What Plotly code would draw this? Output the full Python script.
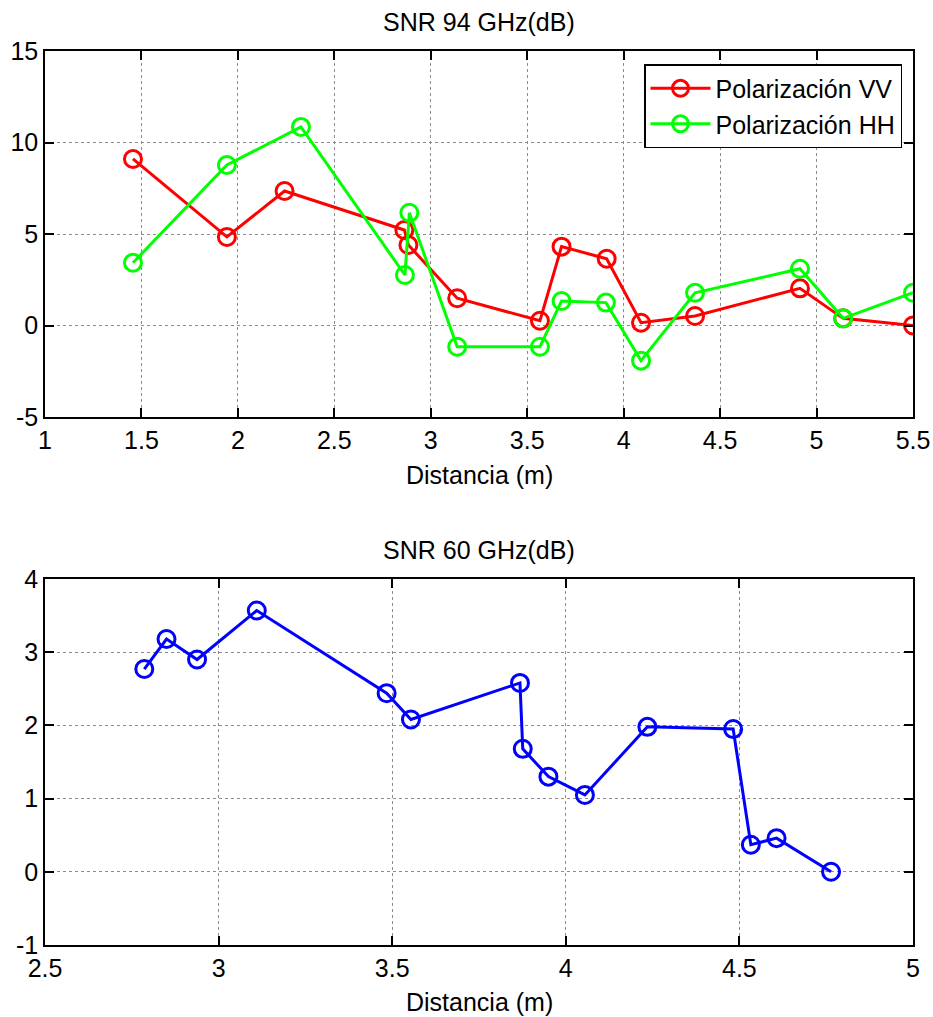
import plotly.graph_objects as go

# SNR at 94 GHz, two polarizations
dist_vv = [1.456, 1.943, 2.242, 2.863, 2.884, 3.137, 3.566, 3.678, 3.912, 4.090, 4.370, 4.914, 5.138, 5.5]
snr_vv = [9.10, 4.84, 7.35, 5.22, 4.40, 1.49, 0.26, 4.31, 3.65, 0.15, 0.52, 2.03, 0.39, 0.0]

dist_hh = [1.456, 1.943, 2.327, 2.866, 2.889, 3.137, 3.566, 3.678, 3.908, 4.090, 4.370, 4.914, 5.138, 5.5]
snr_hh = [3.43, 8.77, 10.85, 2.76, 6.16, -1.16, -1.16, 1.34, 1.25, -1.92, 1.79, 3.10, 0.39, 1.79]

# SNR at 60 GHz
dist_60 = [2.786, 2.850, 2.938, 3.110, 3.484, 3.554, 3.868, 3.876, 3.950, 4.055, 4.235, 4.482, 4.533, 4.607, 4.764]
snr_60 = [2.77, 3.18, 2.90, 3.57, 2.44, 2.08, 2.58, 1.68, 1.30, 1.05, 1.98, 1.95, 0.37, 0.46, 0.0]

# Tick labels
x1_ticks = [1, 1.5, 2, 2.5, 3, 3.5, 4, 4.5, 5, 5.5]
x1_labels = ["1", "1.5", "2", "2.5", "3", "3.5", "4", "4.5", "5", "5.5"]
y1_ticks = [-5, 0, 5, 10, 15]
y1_labels = ["-5", "0", "5", "10", "15"]
x2_ticks = [2.5, 3, 3.5, 4, 4.5, 5]
x2_labels = ["2.5", "3", "3.5", "4", "4.5", "5"]
y2_ticks = [-1, 0, 1, 2, 3, 4]
y2_labels = ["-1", "0", "1", "2", "3", "4"]

FONT = "Liberation Sans, Arial, sans-serif"
W, H = 933, 1017
ML, MR = 45, 20

def py(px):
    return (H - px) / H

def marker(c):
    return dict(symbol="circle-open", size=17, color=c, line=dict(width=3, color=c))

fig = go.Figure()
fig.add_trace(go.Scatter(x=dist_vv, y=snr_vv, mode="lines+markers", name="Polarización VV",
                         line=dict(color="#ff0000", width=3), marker=marker("#ff0000"),
                         xaxis="x", yaxis="y"))
fig.add_trace(go.Scatter(x=dist_hh, y=snr_hh, mode="lines+markers", name="Polarización HH",
                         line=dict(color="#00ff00", width=3), marker=marker("#00ff00"),
                         xaxis="x", yaxis="y"))
fig.add_trace(go.Scatter(x=dist_60, y=snr_60, mode="lines+markers", name="SNR 60 GHz",
                         line=dict(color="#0000ff", width=3), marker=marker("#0000ff"),
                         xaxis="x2", yaxis="y2", showlegend=False))

axis_common = dict(
    showline=True, linecolor="black", linewidth=1.5, mirror="ticks",
    ticks="inside", ticklen=9, tickwidth=1.5, tickcolor="black",
    showgrid=True, gridcolor="#8c8c8c", gridwidth=1, griddash="dot",
    zeroline=False, automargin=False,
    tickfont=dict(family=FONT, size=25, color="black"),
)

fig.update_layout(
    template="none",
    width=W, height=H,
    margin=dict(l=ML, r=MR, t=0, b=0, autoexpand=False),
    paper_bgcolor="white", plot_bgcolor="white",
    font=dict(family=FONT, size=25, color="black"),
    xaxis=dict(axis_common, range=[1, 5.5], tickvals=x1_ticks, ticktext=x1_labels,
               domain=[0, 1], anchor="y"),
    yaxis=dict(axis_common, range=[-5, 15], tickvals=y1_ticks, ticktext=y1_labels,
               domain=[py(417), py(51)], anchor="x"),
    xaxis2=dict(axis_common, range=[2.5, 5], tickvals=x2_ticks, ticktext=x2_labels,
                domain=[0, 1], anchor="y2"),
    yaxis2=dict(axis_common, range=[-1, 4], tickvals=y2_ticks, ticktext=y2_labels,
                domain=[py(945), py(579)], anchor="x2"),
    legend=dict(x=1 - (913 - 902) / (W - ML - MR), y=py(64), xanchor="right", yanchor="top",
                bgcolor="white", bordercolor="black", borderwidth=1.5,
                font=dict(family=FONT, size=25, color="black"),
                itemwidth=60, tracegroupgap=0),
    showlegend=True,
)

annotations = [
    dict(text="SNR 94 GHz(dB)", x=0.5, y=py(22)),
    dict(text="Distancia (m)", x=0.5, y=py(475)),
    dict(text="SNR 60 GHz(dB)", x=0.5, y=py(550)),
    dict(text="Distancia (m)", x=0.5, y=py(1002)),
]
for a in annotations:
    fig.add_annotation(xref="paper", yref="paper", showarrow=False,
                       xanchor="center", yanchor="middle",
                       font=dict(family=FONT, size=25, color="black"), **a)

fig.write_html("out.html")
